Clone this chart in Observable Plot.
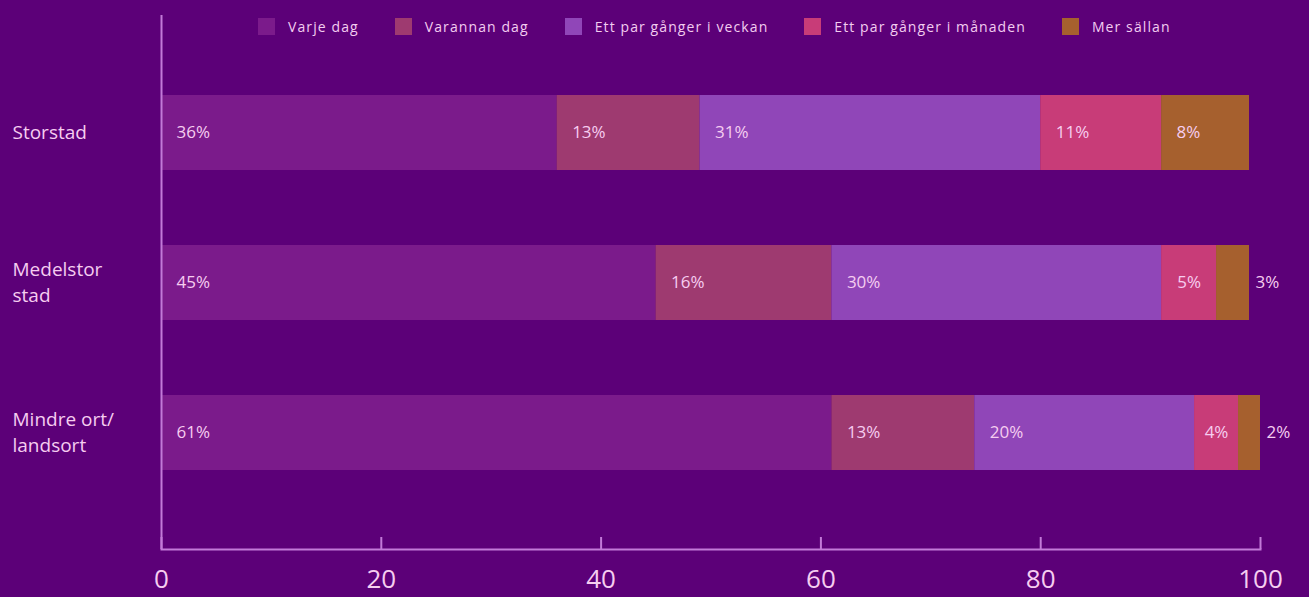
<!DOCTYPE html>
<html>
<head>
<meta charset="utf-8">
<script src="https://cdn.jsdelivr.net/npm/d3@7"></script>
<script src="https://cdn.jsdelivr.net/npm/@observablehq/plot@0.6"></script>
<style>
  html, body { margin: 0; padding: 0; background: #5c0078; }
  #wrap { position: relative; width: 1309px; height: 597px; overflow: hidden; font-family: "Open Sans", Lato, sans-serif; }
  #legend { position: absolute; top: 17px; left: 258px; display: flex; font-size: 14px; letter-spacing: 1.1px; color: #f3cdf0; white-space: nowrap; }
  #legend .item { display: flex; align-items: center; margin-right: 36px; }
  #legend .sw { width: 17px; height: 17px; margin-right: 13px; }
</style>
</head>
<body>
<div id="wrap">
  <div id="chart"></div>
  <div id="legend"></div>
</div>
<script>
const places = ["Storstad", "Medelstor\nstad", "Mindre ort/\nlandsort"];
const series = ["Varje dag", "Varannan dag", "Ett par gånger i veckan", "Ett par gånger i månaden", "Mer sällan"];
const colors = ["#7b1b8b", "#9e3a70", "#9046b8", "#c83c78", "#a6602e"];
const varjeDag = [36, 45, 61];
const varannanDag = [13, 16, 13];
const parVeckan = [31, 30, 20];
const parManaden = [11, 5, 4];
const merSallan = [8, 3, 2];
const xTicks = [0, 20, 40, 60, 80, 100];

const seriesValues = [varjeDag, varannanDag, parVeckan, parManaden, merSallan];
const rows = [];
places.forEach((p, i) => {
  let acc = 0;
  seriesValues.forEach((vals, s) => {
    const v = vals[i];
    rows.push({place: p, series: series[s], value: v, x1: acc, x2: acc + v});
    acc += v;
  });
});

// label placement rules
const inside = rows.filter(d => d.value >= 8);
const centered = rows.filter(d => d.value > 3 && d.value < 8);
const outside = rows.filter(d => d.value <= 3);

// category label lines
const singleLine = places.filter(p => !p.includes("\n")).map(p => ({place: p, text: p}));
const firstLines = places.filter(p => p.includes("\n")).map(p => ({place: p, text: p.split("\n")[0]}));
const secondLines = places.filter(p => p.includes("\n")).map(p => ({place: p, text: p.split("\n")[1]}));

const textColor = "#f6cdf0";
const axisColor = "#c27ad8";
const catOpts = {y: "place", text: "text", frameAnchor: "left", dx: -149, textAnchor: "start", fill: textColor, fontSize: 19};

const chart = Plot.plot({
  width: 1309,
  height: 597,
  marginLeft: 161,
  marginRight: 49,
  marginTop: 15,
  marginBottom: 48,
  style: {background: "#5c0078", fontFamily: "'Open Sans', Lato, sans-serif", color: textColor},
  x: {domain: [0, 100], axis: null},
  y: {domain: places, axis: null, paddingInner: 0.5, paddingOuter: 0.525},
  color: {domain: series, range: colors},
  marks: [
    Plot.barX(rows, {y: "place", x1: "x1", x2: "x2", fill: "series"}),
    Plot.text(inside, {y: "place", x: "x1", text: d => d.value + "%", textAnchor: "start", dx: 15, fill: textColor, fontSize: 17}),
    Plot.text(centered, {y: "place", x: d => (d.x1 + d.x2) / 2, text: d => d.value + "%", textAnchor: "middle", fill: textColor, fontSize: 17}),
    Plot.text(outside, {y: "place", x: "x2", text: d => d.value + "%", textAnchor: "start", dx: 6, fill: textColor, fontSize: 17}),
    Plot.text(singleLine, {...catOpts}),
    Plot.text(firstLines, {...catOpts, dy: -13}),
    Plot.text(secondLines, {...catOpts, dy: 13}),
    Plot.ruleX([0], {stroke: axisColor, strokeWidth: 2}),
    Plot.frame({anchor: "bottom", stroke: axisColor, strokeWidth: 2}),
    Plot.ruleX(xTicks, {x: d => d, insetTop: 522, stroke: axisColor, strokeWidth: 2}),
    Plot.axisX(xTicks, {tickSize: 0, tickPadding: 20, fontSize: 26, fill: textColor, tickFormat: d => d})
  ]
});
document.getElementById("chart").appendChild(chart);

const legend = document.getElementById("legend");
series.forEach((s, i) => {
  const item = document.createElement("div");
  item.className = "item";
  const sw = document.createElement("span");
  sw.className = "sw";
  sw.style.background = colors[i];
  const lab = document.createElement("span");
  lab.textContent = s;
  item.appendChild(sw);
  item.appendChild(lab);
  legend.appendChild(item);
});
</script>
</body>
</html>
